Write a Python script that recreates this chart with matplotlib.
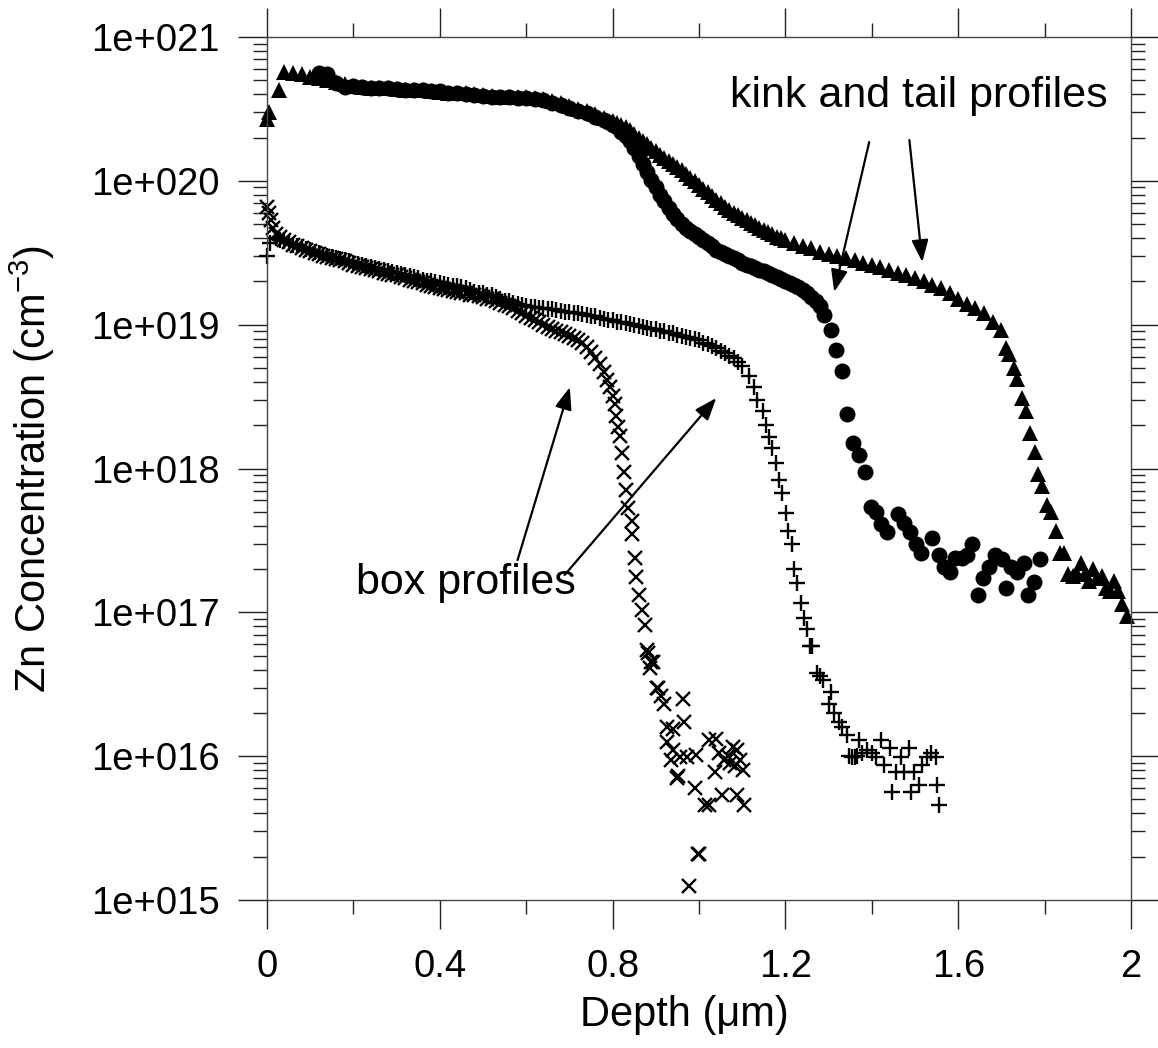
import matplotlib
matplotlib.use('Agg')
import matplotlib.pyplot as plt
import numpy as np
from matplotlib.ticker import LogLocator, NullFormatter

plt.rcParams['font.family'] = ['Liberation Sans', 'DejaVu Sans']

# --- data (depth in um, Zn concentration in cm^-3) ---
# kink and tail profile 1 (triangles): surface, plateau, kink, tail
tri_depth = [0.000, 0.005, 0.028,
             0.04, 0.06, 0.08, 0.10, 0.12, 0.14, 0.16, 0.18, 0.20, 0.22,
             0.24, 0.26, 0.28, 0.30, 0.32, 0.34, 0.36, 0.38, 0.40, 0.42,
             0.44, 0.46, 0.48, 0.50, 0.52, 0.54, 0.56, 0.58, 0.60, 0.62,
             0.64, 0.66, 0.68, 0.70, 0.72, 0.74, 0.76, 0.78, 0.80,
             0.81, 0.82, 0.83, 0.84, 0.85, 0.86, 0.87, 0.88, 0.89, 0.90,
             0.91, 0.92, 0.93, 0.94, 0.95, 0.96, 0.97, 0.98, 0.99, 1.00,
             1.01, 1.02, 1.03, 1.04, 1.05, 1.06, 1.07, 1.08, 1.09, 1.10,
             1.11, 1.12, 1.13, 1.14, 1.15, 1.16, 1.17, 1.18, 1.19, 1.20,
             1.22, 1.24, 1.26, 1.28, 1.30, 1.32, 1.34, 1.36, 1.38, 1.40,
             1.42, 1.44, 1.46, 1.48, 1.50, 1.52, 1.54, 1.56, 1.58, 1.60,
             1.62, 1.64, 1.66, 1.68, 1.70,
             1.711, 1.718, 1.729, 1.737, 1.748, 1.757, 1.766, 1.778, 1.785, 1.794,
             1.806, 1.815, 1.826, 1.836, 1.845, 1.855, 1.866, 1.875, 1.884, 1.894,
             1.903, 1.912, 1.921, 1.933, 1.942, 1.951, 1.961, 1.970, 1.979, 1.991]
tri_conc = [2.7e20, 3.0e20, 4.3e20,
            5.7e20, 5.6e20, 5.5e20, 5.3e20, 5.2e20, 5.0e20, 4.9e20, 4.7e20, 4.6e20, 4.5e20,
            4.45e20, 4.4e20, 4.4e20, 4.35e20, 4.3e20, 4.3e20, 4.25e20, 4.2e20, 4.15e20, 4.1e20,
            4.1e20, 4.05e20, 4.0e20, 3.95e20, 3.9e20, 3.85e20, 3.85e20, 3.8e20, 3.8e20, 3.75e20,
            3.7e20, 3.6e20, 3.45e20, 3.3e20, 3.15e20, 3.05e20, 2.9e20, 2.75e20, 2.6e20,
            2.52e20, 2.45e20, 2.35e20, 2.25e20, 2.12e20, 2.0e20, 1.9e20, 1.8e20, 1.7e20, 1.6e20,
            1.52e20, 1.45e20, 1.37e20, 1.3e20, 1.25e20, 1.19e20, 1.12e20, 1.05e20, 9.9e19, 9.3e19,
            8.8e19, 8.3e19, 7.85e19, 7.4e19, 7.0e19, 6.6e19, 6.3e19, 6.0e19, 5.75e19, 5.5e19,
            5.3e19, 5.1e19, 4.9e19, 4.7e19, 4.55e19, 4.4e19, 4.25e19, 4.1e19, 4.0e19, 3.9e19,
            3.7e19, 3.5e19, 3.4e19, 3.2e19, 3.1e19, 3.0e19, 2.9e19, 2.8e19, 2.7e19, 2.6e19,
            2.5e19, 2.4e19, 2.3e19, 2.2e19, 2.1e19, 2.0e19, 1.9e19, 1.8e19, 1.65e19, 1.5e19,
            1.4e19, 1.3e19, 1.2e19, 1.05e19, 9.2e18,
            6.9e18, 6.3e18, 5.0e18, 4.2e18, 3.1e18, 2.5e18, 1.77e18, 1.3e18, 9.1e17, 7.6e17,
            5.6e17, 5.0e17, 3.7e17, 2.6e17, 2.6e17, 1.86e17, 1.8e17, 1.85e17, 2.2e17, 1.86e17,
            1.66e17, 2.0e17, 1.74e17, 1.8e17, 1.48e17, 1.41e17, 1.66e17, 1.41e17, 1.15e17, 9.5e16]

# kink and tail profile 2 (circles)
circ_depth = [0.12, 0.14, 0.16, 0.18, 0.20, 0.22, 0.24, 0.26, 0.28, 0.30,
              0.32, 0.34, 0.36, 0.38, 0.40, 0.42, 0.44, 0.46, 0.48, 0.50,
              0.52, 0.54, 0.56, 0.58, 0.60, 0.62, 0.64, 0.66, 0.68, 0.70,
              0.72, 0.74, 0.76, 0.78,
              0.79, 0.80, 0.81, 0.82, 0.83, 0.84, 0.85, 0.86, 0.87, 0.88,
              0.89, 0.90, 0.91, 0.92, 0.93, 0.94, 0.95, 0.96, 0.97, 0.98,
              0.99, 1.00, 1.01, 1.02, 1.03, 1.04, 1.05, 1.06, 1.07, 1.08,
              1.09, 1.10, 1.11, 1.12, 1.13, 1.14, 1.15, 1.16, 1.17, 1.18,
              1.19, 1.20, 1.21, 1.22, 1.23, 1.24, 1.25, 1.26, 1.27, 1.28,
              1.290, 1.306, 1.318, 1.332, 1.343, 1.357, 1.371, 1.385, 1.397, 1.410,
              1.422, 1.436, 1.461, 1.475, 1.489, 1.503, 1.514, 1.540, 1.556, 1.568,
              1.581, 1.593, 1.609, 1.621, 1.632, 1.646, 1.658, 1.672, 1.686, 1.702,
              1.711, 1.723, 1.737, 1.753, 1.762, 1.776, 1.790]
circ_conc = [5.6e20, 5.5e20, 4.8e20, 4.5e20, 4.6e20, 4.5e20, 4.45e20, 4.4e20, 4.4e20, 4.35e20,
             4.3e20, 4.3e20, 4.25e20, 4.2e20, 4.2e20, 4.1e20, 4.1e20, 4.0e20, 3.95e20, 3.9e20,
             3.85e20, 3.8e20, 3.8e20, 3.75e20, 3.75e20, 3.7e20, 3.65e20, 3.5e20, 3.35e20, 3.2e20,
             3.05e20, 2.95e20, 2.8e20, 2.65e20,
             2.55e20, 2.45e20, 2.35e20, 2.2e20, 2.05e20, 1.9e20, 1.7e20, 1.5e20, 1.3e20, 1.15e20,
             1.02e20, 9.0e19, 8.0e19, 7.2e19, 6.5e19, 5.9e19, 5.4e19, 5.0e19, 4.7e19, 4.5e19,
             4.3e19, 4.1e19, 3.9e19, 3.7e19, 3.5e19, 3.3e19, 3.2e19, 3.1e19, 3.0e19, 2.9e19,
             2.8e19, 2.7e19, 2.62e19, 2.55e19, 2.47e19, 2.4e19, 2.35e19, 2.3e19, 2.22e19, 2.15e19,
             2.07e19, 2.0e19, 1.95e19, 1.9e19, 1.82e19, 1.75e19, 1.65e19, 1.55e19, 1.45e19, 1.35e19,
             1.17e19, 9.2e18, 6.7e18, 4.8e18, 2.4e18, 1.5e18, 1.24e18, 9.4e17, 5.4e17, 5.0e17,
             4.1e17, 3.6e17, 4.8e17, 4.2e17, 3.6e17, 3.0e17, 2.6e17, 3.3e17, 2.5e17, 2.05e17,
             1.9e17, 2.4e17, 2.4e17, 2.5e17, 3.0e17, 1.32e17, 1.74e17, 2.05e17, 2.5e17, 2.35e17,
             1.48e17, 2.05e17, 1.9e17, 2.2e17, 1.32e17, 1.62e17, 2.35e17]

# box profile 1 (plus)
plus_depth = [0.000, 0.008,
              0.02, 0.03, 0.04, 0.05, 0.06, 0.07, 0.08, 0.09, 0.10, 0.11,
              0.12, 0.13, 0.14, 0.15, 0.16, 0.17, 0.18, 0.19, 0.20, 0.21,
              0.22, 0.23, 0.24, 0.25, 0.26, 0.27, 0.28, 0.29, 0.30, 0.31,
              0.32, 0.33, 0.34, 0.35, 0.36, 0.37, 0.38, 0.39, 0.40, 0.41,
              0.42, 0.43, 0.44, 0.45, 0.46, 0.47, 0.48, 0.49, 0.50, 0.51,
              0.52, 0.53, 0.54, 0.55, 0.56, 0.57, 0.58, 0.59, 0.60, 0.61,
              0.62, 0.63, 0.64, 0.65, 0.66, 0.67, 0.68, 0.69, 0.70, 0.71,
              0.72, 0.73, 0.74, 0.75, 0.76, 0.77, 0.78, 0.79, 0.80, 0.81,
              0.82, 0.83, 0.84, 0.85, 0.86, 0.87, 0.88, 0.89, 0.90, 0.91,
              0.92, 0.93, 0.94, 0.95, 0.96, 0.97, 0.98, 0.99, 1.00, 1.01,
              1.02, 1.03, 1.04, 1.05, 1.06, 1.07, 1.08, 1.09, 1.10, 1.115,
              1.128, 1.135, 1.147, 1.156, 1.163, 1.170, 1.179, 1.186, 1.193, 1.202,
              1.207, 1.216, 1.221, 1.228, 1.237, 1.244, 1.251, 1.258, 1.262, 1.272,
              1.279, 1.286, 1.302, 1.306, 1.313, 1.323, 1.332, 1.343, 1.348, 1.355,
              1.360, 1.365, 1.371, 1.378, 1.390, 1.401, 1.410, 1.422, 1.429, 1.443,
              1.447, 1.457, 1.468, 1.475, 1.487, 1.491, 1.498, 1.510, 1.517, 1.528,
              1.538, 1.549, 1.551, 1.556]
plus_conc = [3.0e19, 3.7e19,
             4.0e19, 3.9e19, 3.8e19, 3.7e19, 3.6e19, 3.52e19, 3.45e19, 3.38e19, 3.3e19, 3.22e19,
             3.15e19, 3.07e19, 3.0e19, 2.95e19, 2.9e19, 2.85e19, 2.8e19, 2.75e19, 2.7e19, 2.65e19,
             2.6e19, 2.55e19, 2.5e19, 2.47e19, 2.45e19, 2.4e19, 2.35e19, 2.32e19, 2.3e19, 2.25e19,
             2.2e19, 2.17e19, 2.15e19, 2.1e19, 2.05e19, 2.02e19, 2.0e19, 1.97e19, 1.95e19, 1.92e19,
             1.9e19, 1.87e19, 1.85e19, 1.82e19, 1.8e19, 1.75e19, 1.7e19, 1.67e19, 1.65e19, 1.62e19,
             1.6e19, 1.55e19, 1.5e19, 1.47e19, 1.45e19, 1.42e19, 1.4e19, 1.37e19, 1.35e19, 1.33e19,
             1.32e19, 1.31e19, 1.3e19, 1.29e19, 1.28e19, 1.26e19, 1.25e19, 1.23e19, 1.22e19, 1.21e19,
             1.2e19, 1.18e19, 1.17e19, 1.15e19, 1.14e19, 1.12e19, 1.1e19, 1.08e19, 1.07e19, 1.05e19,
             1.04e19, 1.02e19, 1.01e19, 9.9e18, 9.8e18, 9.6e18, 9.5e18, 9.4e18, 9.3e18, 9.1e18,
             9.0e18, 8.8e18, 8.7e18, 8.5e18, 8.4e18, 8.2e18, 8.1e18, 7.9e18, 7.8e18, 7.5e18,
             7.3e18, 7.1e18, 6.9e18, 6.6e18, 6.4e18, 6.1e18, 5.9e18, 5.5e18, 5.2e18, 4.4e18,
             3.7e18, 3.0e18, 2.5e18, 2.0e18, 1.65e18, 1.38e18, 1.1e18, 8.3e17, 6.8e17, 4.9e17,
             3.7e17, 3.0e17, 2.0e17, 1.6e17, 1.17e17, 9.1e16, 7.6e16, 5.8e16, 5.8e16, 3.8e16,
             3.6e16, 3.4e16, 2.3e16, 2.8e16, 2.0e16, 1.74e16, 1.6e16, 1.4e16, 1.0e16, 9.8e15,
             9.8e15, 1.0e16, 1.29e16, 1.05e16, 1.1e16, 1.05e16, 9.8e15, 1.29e16, 8.7e15, 1.14e16,
             5.6e15, 7.8e15, 9.8e15, 7.8e15, 1.14e16, 5.6e15, 7.8e15, 6.3e15, 8.7e15, 9.8e15,
             1.05e16, 9.8e15, 6.3e15, 4.6e15]

# box profile 2 (cross)
cross_depth = [0.000, 0.005, 0.010, 0.015,
               0.02, 0.03, 0.04, 0.05, 0.06, 0.07, 0.08, 0.09, 0.10, 0.11,
               0.12, 0.13, 0.14, 0.15, 0.16, 0.17, 0.18, 0.19, 0.20, 0.21,
               0.22, 0.23, 0.24, 0.25, 0.26, 0.27, 0.28, 0.29, 0.30, 0.31,
               0.32, 0.33, 0.34, 0.35, 0.36, 0.37, 0.38, 0.39, 0.40, 0.41,
               0.42, 0.43, 0.44, 0.45, 0.46, 0.47, 0.48, 0.49, 0.50, 0.51,
               0.52, 0.53, 0.54, 0.55, 0.56, 0.57, 0.58, 0.59, 0.60, 0.61,
               0.62, 0.63, 0.64, 0.65, 0.66, 0.67, 0.68, 0.69, 0.70, 0.71,
               0.72, 0.73, 0.74, 0.75, 0.76, 0.77, 0.78,
               0.786, 0.793, 0.800, 0.805, 0.809, 0.812, 0.816, 0.821, 0.826, 0.832,
               0.835, 0.844, 0.846, 0.853, 0.855, 0.862, 0.869, 0.874, 0.879, 0.881,
               0.886, 0.890, 0.893, 0.902, 0.904, 0.913, 0.920, 0.925, 0.927, 0.936,
               0.939, 0.939, 0.950, 0.952, 0.955, 0.962, 0.966, 0.973, 0.978, 0.990,
               0.994, 0.997, 1.000, 1.013, 1.024, 1.024, 1.036, 1.040, 1.047, 1.054,
               1.059, 1.066, 1.071, 1.078, 1.083, 1.087, 1.087, 1.094, 1.101, 1.105]
cross_conc = [6.6e19, 6.0e19, 5.3e19, 4.7e19,
              4.3e19, 4.1e19, 3.9e19, 3.75e19, 3.6e19, 3.5e19, 3.4e19, 3.32e19, 3.25e19, 3.17e19,
              3.1e19, 3.02e19, 2.95e19, 2.9e19, 2.85e19, 2.8e19, 2.75e19, 2.67e19, 2.6e19, 2.55e19,
              2.5e19, 2.47e19, 2.45e19, 2.4e19, 2.35e19, 2.3e19, 2.25e19, 2.22e19, 2.2e19, 2.15e19,
              2.1e19, 2.05e19, 2.0e19, 1.97e19, 1.95e19, 1.9e19, 1.85e19, 1.82e19, 1.8e19, 1.77e19,
              1.75e19, 1.72e19, 1.7e19, 1.67e19, 1.65e19, 1.62e19, 1.6e19, 1.57e19, 1.55e19, 1.52e19,
              1.5e19, 1.46e19, 1.42e19, 1.38e19, 1.35e19, 1.3e19, 1.25e19, 1.2e19, 1.15e19, 1.11e19,
              1.08e19, 1.04e19, 1.0e19, 9.7e18, 9.4e18, 9.1e18, 8.9e18, 8.6e18, 8.4e18, 8.1e18,
              7.8e18, 7.4e18, 7.0e18, 6.5e18, 5.9e18, 5.3e18, 4.7e18,
              4.1e18, 3.7e18, 3.2e18, 2.8e18, 2.3e18, 1.95e18, 1.67e18, 1.29e18, 9.4e17, 7.1e17,
              5.3e17, 4.3e17, 3.5e17, 2.4e17, 1.75e17, 1.32e17, 1.04e17, 8.2e16, 5.5e16, 5.2e16,
              4.1e16, 4.5e16, 4.5e16, 3.0e16, 3.0e16, 2.6e16, 2.3e16, 1.6e16, 1.26e16, 9.4e15,
              1.55e16, 1.1e16, 7.1e15, 7.3e15, 9.8e15, 2.5e16, 1.74e16, 9.8e15, 1.26e15, 6.0e15,
              1.02e16, 2.1e15, 2.1e15, 4.6e15, 4.6e15, 1.29e16, 7.8e15, 1.32e16, 1.05e16, 5.4e15,
              9.4e15, 1.0e16, 8.9e15, 1.15e16, 8.5e15, 1.1e16, 5.4e15, 9.4e15, 8.0e15, 4.6e15]

x_ticks = [0, 0.4, 0.8, 1.2, 1.6, 2.0]
x_ticklabels = ['0', '0.4', '0.8', '1.2', '1.6', '2']
x_minor = [0.2, 0.6, 1.0, 1.4, 1.8]
y_ticks = [1e15, 1e16, 1e17, 1e18, 1e19, 1e20, 1e21]
y_ticklabels = ['1e+015', '1e+016', '1e+017', '1e+018', '1e+019', '1e+020', '1e+021']

fig = plt.figure(figsize=(11.58, 10.48), dpi=100)
ax = fig.add_axes([267 / 1158, 1 - 900 / 1048, 864 / 1158, 863 / 1048])

ax.plot(tri_depth, tri_conc, linestyle='none', marker='^', ms=11.5, color='k', mew=0, clip_on=False)
ax.plot(circ_depth, circ_conc, linestyle='none', marker='o', ms=11.5, color='k', mew=0, clip_on=False)
ax.plot(plus_depth, plus_conc, linestyle='none', marker='+', ms=12, color='k', mew=1.7, clip_on=False)
ax.plot(cross_depth, cross_conc, linestyle='none', marker='x', ms=10, color='k', mew=1.7, clip_on=False)

ax.set_yscale('log')
ax.set_xlim(0, 2)
ax.set_ylim(1e15, 1e21)
ax.set_xticks(x_ticks, labels=x_ticklabels)
ax.set_xticks(x_minor, minor=True)
ax.set_yticks(y_ticks, labels=y_ticklabels)
ax.yaxis.set_minor_locator(LogLocator(base=10, subs=range(2, 10), numticks=20))
ax.yaxis.set_minor_formatter(NullFormatter())

for sp in ax.spines.values():
    sp.set_linewidth(1.0)
    sp.set_color('#444444')
ax.tick_params(which='both', direction='out', top=True, right=True, labelsize=27.5, color='#222222', width=1)
ax.tick_params(which='major', length=21)
ax.tick_params(which='minor', length=10)
ax.tick_params(axis='x', which='major', pad=14)
ax.tick_params(axis='y', which='major', pad=13)

ax.set_xlabel('Depth (μm)', fontsize=30)
ax.set_ylabel(r'Zn Concentration (cm$^{\mathregular{-3}}$)', fontsize=30)
ax.xaxis.set_label_coords(0.483, -0.110)
ax.yaxis.set_label_coords(-0.243, 0.5)

# annotations
arrow = dict(arrowstyle='-|>,head_length=0.45,head_width=0.17', color='k', lw=1.6,
             mutation_scale=30, shrinkA=0, shrinkB=0)
ax.text(1.071, 3.26e20, 'kink and tail profiles', fontsize=31, ha='left', va='baseline')
ax.annotate('', xy=(1.313, 1.69e19), xytext=(1.394, 1.86e20), arrowprops=arrow)
ax.annotate('', xy=(1.517, 2.72e19), xytext=(1.487, 1.92e20), arrowprops=arrow)
ax.text(0.46, 1.6e17, 'box profiles', fontsize=31, ha='center', va='center')
ax.annotate('', xy=(0.701, 3.68e18), xytext=(0.580, 2.31e17), arrowprops=arrow)
ax.annotate('', xy=(1.040, 3.09e18), xytext=(0.689, 1.82e17), arrowprops=arrow)

fig.savefig('out.png', dpi=100)
